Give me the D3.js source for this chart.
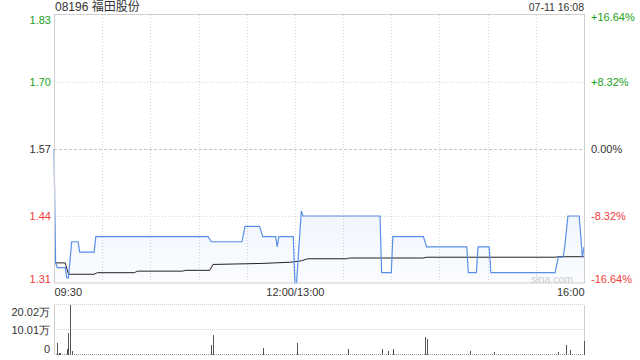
<!DOCTYPE html>
<html><head><meta charset="utf-8">
<script src="https://cdn.jsdelivr.net/npm/d3@7/dist/d3.min.js"></script>
<style>
html,body{margin:0;padding:0;background:#fff;}
svg{display:block;font-family:"Liberation Sans",Arial,"Noto Sans CJK SC",sans-serif;}
</style></head><body>
<svg id="c" width="640" height="360"></svg>
<script>
const title = "08196 福田股份";
const stamp = "07-11 16:08";
const watermark = "sina.com";
const priceTicks = [1.83, 1.70, 1.57, 1.44, 1.31];
const pctLabels = ["+16.64%", "+8.32%", "0.00%", "-8.32%", "-16.64%"];
const tickTones = ["up", "up", "flat", "down", "down"];
const xTickMinutes = [0, 150, 330];
const xTickLabels = ["09:30", "12:00/13:00", "16:00"];
const gridMinutes = [30, 60, 90, 120, 150, 180, 210, 240, 270, 300];

const priceMinutes = [0,1,2,7,8,9,11,15,16,25,26,96,98,117,119,128,130,138,139,140,149,150,151,154,155,203,204,210,211,230,232,257,258,263,264,271,272,312,314,317,318,320,327,329,330];
const prices = [1.57,1.35,1.34,1.34,1.32,1.32,1.39,1.39,1.37,1.37,1.40,1.40,1.39,1.39,1.42,1.42,1.40,1.40,1.38,1.40,1.40,1.31,1.31,1.45,1.44,1.44,1.33,1.33,1.40,1.40,1.38,1.38,1.33,1.33,1.38,1.38,1.33,1.33,1.36,1.36,1.38,1.44,1.44,1.36,1.38];

const avgMinutes = [1,7,9,25,27,50,52,80,82,97,99,130,148,154,158,182,184,230,232,312,314,330];
const avgPrices = [1.349,1.349,1.327,1.327,1.330,1.330,1.333,1.333,1.3346,1.3346,1.346,1.348,1.3505,1.353,1.357,1.357,1.3585,1.3585,1.360,1.360,1.361,1.361];

const volMinutes = [2,3,4,8,9,10,11,98,99,130,151,183,204,208,211,231,232,259,274,314,319,321,330];
const volumes = [48000,8000,8000,24000,88000,200200,16000,40000,80000,28000,48000,24000,24000,16000,24000,72000,64000,16000,12000,12000,40000,20000,56000];
const volTicks = [200200, 100100, 0];
const volTickLabels = ["20.02万", "10.01万", "0"];

const toneColor = {up: "#1a9f1a", flat: "#333", down: "#f03a3a"};

const svg = d3.select("#c");
const L = 54, R = 584, T = 15, B = 283;
const VT = 305, VB = 355;

const x = d3.scaleLinear().domain([0, 330]).range([L, R]);
const y = d3.scaleLinear().domain([1.31, 1.83]).range([B, T]);
const yv = d3.scaleLinear().domain([0, 200200]).range([VB, VT]);

// gradient
const defs = svg.append("defs");
const g = defs.append("linearGradient").attr("id", "fillg").attr("x1", 0).attr("y1", 0).attr("x2", 0).attr("y2", 1);
g.append("stop").attr("offset", "0%").attr("stop-color", "#5a90ec").attr("stop-opacity", 0.13);
g.append("stop").attr("offset", "100%").attr("stop-color", "#5a90ec").attr("stop-opacity", 0.03);

// grid
const grid = svg.append("g");
grid.selectAll("line.v").data(gridMinutes).join("line")
  .attr("x1", d => Math.round(x(d)) + 0.5).attr("x2", d => Math.round(x(d)) + 0.5)
  .attr("y1", T).attr("y2", B)
  .attr("stroke", "#d6d6d6").attr("stroke-dasharray", "1,2");
grid.selectAll("line.h").data(priceTicks.slice(1, 4)).join("line")
  .attr("x1", L).attr("x2", R)
  .attr("y1", d => Math.round(y(d)) + 0.5).attr("y2", d => Math.round(y(d)) + 0.5)
  .attr("stroke", (d, i) => i === 1 ? "#c4c4c4" : "#d6d6d6")
  .attr("stroke-dasharray", (d, i) => i === 1 ? "3,2" : "1,2");

// watermark
svg.append("text").attr("x", 573).attr("y", 283).attr("text-anchor", "end")
  .attr("font-size", "10.5px").attr("fill", "#d0d0d0").text(watermark);

const pts = priceMinutes.map((m, i) => [m, prices[i]]);
svg.append("path").datum(pts)
  .attr("d", d3.area().x(d => x(d[0])).y0(B).y1(d => y(d[1])))
  .attr("fill", "url(#fillg)");

const apts = avgMinutes.map((m, i) => [m, avgPrices[i]]);
svg.append("path").datum(apts)
  .attr("d", d3.line().x(d => x(d[0])).y(d => y(d[1])))
  .attr("fill", "none").attr("stroke", "#222").attr("stroke-width", 1);

svg.append("path").datum(pts)
  .attr("d", d3.line().x(d => x(d[0])).y(d => y(d[1])))
  .attr("fill", "none").attr("stroke", "#5a8fe8").attr("stroke-width", 1.2);

// frame
svg.append("rect").attr("x", L + 0.5).attr("y", T - 0.5).attr("width", R - L).attr("height", B - T + 0.5)
  .attr("fill", "none").attr("stroke", "#cfcfcf");

// axes
const fs = "11px";
const la = svg.append("g").attr("transform", `translate(${L},0)`)
  .call(d3.axisLeft(y).tickValues(priceTicks).tickSize(0).tickPadding(3).tickFormat(d3.format(".2f")));
la.select(".domain").remove();
la.selectAll("text").attr("font-size", fs).attr("font-family", null)
  .attr("fill", (d, i) => toneColor[tickTones[i]])
  .attr("dy", (d, i) => i === 0 ? "0.8em" : (i === 4 ? "-0.05em" : "0.32em"));

const ra = svg.append("g").attr("transform", `translate(${R},0)`)
  .call(d3.axisRight(y).tickValues(priceTicks).tickSize(0).tickPadding(7).tickFormat((d, i) => pctLabels[i]));
ra.select(".domain").remove();
ra.selectAll("text").attr("font-size", fs).attr("font-family", null)
  .attr("fill", (d, i) => toneColor[tickTones[i]])
  .attr("dy", (d, i) => i === 0 ? "0.5em" : (i === 4 ? "-0.05em" : "0.32em"));

const xa = svg.append("g").attr("transform", `translate(0,${B})`)
  .call(d3.axisBottom(x).tickValues(xTickMinutes).tickSize(0).tickPadding(5).tickFormat((d, i) => xTickLabels[i]));
xa.select(".domain").remove();
xa.selectAll("text").attr("font-size", fs).attr("font-family", null).attr("fill", "#333")
  .attr("text-anchor", (d, i) => i === 0 ? "start" : (i === 2 ? "end" : "middle"));

// volume panel
svg.selectAll("line.vg").data(volTicks).join("line")
  .attr("x1", L).attr("x2", R)
  .attr("y1", d => Math.round(yv(d)) - 0.5).attr("y2", d => Math.round(yv(d)) - 0.5)
  .attr("stroke", (d) => d === 0 ? "#9a9a9a" : "#cfcfcf").attr("stroke-dasharray", "1,1");
svg.append("line").attr("x1", L + 0.5).attr("x2", L + 0.5).attr("y1", VT).attr("y2", VB).attr("stroke", "#cfcfcf");
svg.append("line").attr("x1", R + 0.5).attr("x2", R + 0.5).attr("y1", VT).attr("y2", VB).attr("stroke", "#cfcfcf");

svg.selectAll("rect.vol").data(volMinutes.map((m, i) => [m, volumes[i]])).join("rect")
  .attr("x", d => Math.round(x(d[0]))).attr("width", 1)
  .attr("y", d => yv(d[1])).attr("height", d => yv(0) - yv(d[1]))
  .attr("fill", "#555");

const va = svg.append("g").attr("transform", `translate(${L},0)`)
  .call(d3.axisLeft(yv).tickValues(volTicks).tickSize(0).tickPadding(4).tickFormat((d, i) => volTickLabels[i]));
va.select(".domain").remove();
va.selectAll("text").attr("font-size", fs).attr("font-family", null).attr("fill", "#333")
  .attr("dy", (d, i) => i === 0 ? "0.95em" : (i === 2 ? "-0.25em" : "0.32em"));

// title
svg.append("text").attr("x", 55).attr("y", 11).attr("font-size", "12px").attr("fill", "#333").text(title);
svg.append("text").attr("x", R).attr("y", 11).attr("text-anchor", "end").attr("font-size", "10.5px").attr("fill", "#333").text(stamp);
</script>
</body></html>
